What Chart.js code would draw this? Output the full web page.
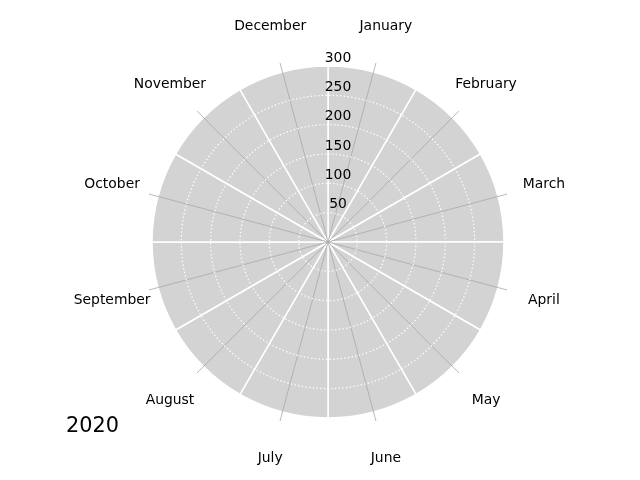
<!DOCTYPE html>
<html lang="en">
<head>
  <meta charset="UTF-8" />
  <title>Monthly polar chart 2020</title>
  <script src="https://cdn.jsdelivr.net/npm/chart.js"></script>
  <style>
    body { margin: 0; background: #fff; }
    canvas { display: block; }
  </style>
</head>
<body>
  <canvas id="polar" width="640" height="480"></canvas>

  <script>
    const months = ['January', 'February', 'March', 'April', 'May', 'June',
      'July', 'August', 'September', 'October', 'November', 'December'];
    // background wedges, one per month, full height of the radial axis
    const backgroundValues = [300, 300, 300, 300, 300, 300, 300, 300, 300, 300, 300, 300];
    const tickValues = [50, 100, 150, 200, 250, 300];
    const yearLabel = '2020';

    const FONT = "'DejaVu Sans', sans-serif";

    // month tick lines, month labels, radial tick labels and the year
    const decorations = {
      id: 'decorations',
      afterDatasetsDraw(chart) {
        const r = chart.scales.r;
        const c = chart.ctx;
        const half = Math.PI / months.length;
        const end = r.getDistanceFromCenterForValue(316);
        c.save();
        c.strokeStyle = '#a8a8a8';
        c.lineWidth = 0.8;
        months.forEach((m, i) => {
          const p = r.getPointPosition(i, end, half);
          c.beginPath();
          c.moveTo(r.xCenter, r.yCenter);
          c.lineTo(p.x, p.y);
          c.stroke();
        });
        c.restore();
      },
      afterDraw(chart) {
        const r = chart.scales.r;
        const c = chart.ctx;
        const half = Math.PI / months.length;
        const labelDist = r.getDistanceFromCenterForValue(381);
        c.save();
        c.fillStyle = '#000';
        c.font = '13.9px ' + FONT;
        c.textAlign = 'center';
        c.textBaseline = 'middle';
        months.forEach((m, i) => {
          const p = r.getPointPosition(i, labelDist, half);
          c.fillText(m, p.x, p.y + 0.5);
        });
        tickValues.forEach(v => {
          const d = r.getDistanceFromCenterForValue(v);
          c.fillText(String(v), r.xCenter + 10, r.yCenter - d - 8);
        });
        c.font = '20.8px ' + FONT;
        c.textAlign = 'left';
        c.textBaseline = 'alphabetic';
        c.fillText(yearLabel, 66, 432);
        c.restore();
      }
    };

    new Chart(document.getElementById('polar'), {
      type: 'polarArea',
      data: {
        labels: months,
        datasets: [{
          data: backgroundValues,
          backgroundColor: '#d3d3d3',
          borderColor: '#ffffff',
          borderWidth: 1.5
        }]
      },
      options: {
        responsive: false,
        animation: false,
        layout: { padding: { top: 66, bottom: 62, left: 16, right: 0 } },
        plugins: { legend: { display: false }, tooltip: { enabled: false } },
        scales: {
          r: {
            min: 0,
            max: 300,
            ticks: { display: false, stepSize: 50 },
            angleLines: { display: false },
            pointLabels: { display: false },
            grid: {
              circular: true,
              z: 1,
              lineWidth: 1.2,
              color: ctx => (ctx.tick && ctx.tick.value > 0 && ctx.tick.value < 300) ? '#ffffff' : 'rgba(0,0,0,0)'
            },
            border: { dash: [1.4, 2.3] }
          }
        }
      },
      plugins: [decorations]
    });
  </script>
</body>
</html>
